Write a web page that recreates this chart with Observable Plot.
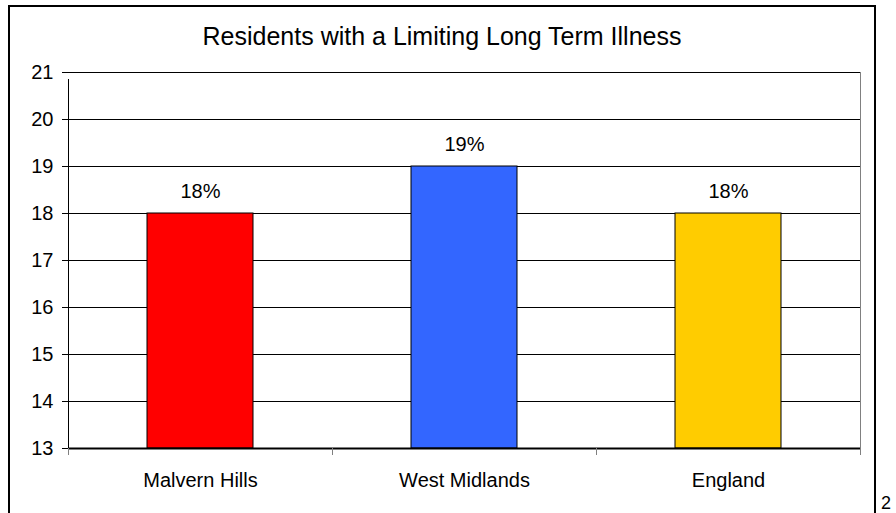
<!DOCTYPE html>
<html>
<head>
<meta charset="utf-8">
<script src="https://cdn.jsdelivr.net/npm/d3@7"></script>
<script src="https://cdn.jsdelivr.net/npm/@observablehq/plot@0.6"></script>
<style>
  html, body { margin: 0; padding: 0; background: #fff; }
  #wrap { position: relative; width: 896px; height: 513px; overflow: hidden; background: #fff;
          font-family: "Liberation Sans", Arial, sans-serif; }
  #border { position: absolute; left: 8px; top: 5px; width: 864px; height: 540px; border: 2px solid #000; }
  #title { position: absolute; left: 8px; width: 868px; top: 22px; text-align: center; font-size: 25px; color: #000; }
  #pageno { position: absolute; left: 881px; top: 494px; font-size: 18px; line-height: 1; color: #000; }
  #chart { position: absolute; left: 0; top: 0; }
</style>
</head>
<body>
<div id="wrap">
  <div id="border"></div>
  <div id="title">Residents with a Limiting Long Term Illness</div>
  <div id="chart"></div>
  <div id="pageno">2</div>
</div>
<script>
const categories = ["Malvern Hills", "West Midlands", "England"];
const values = [18, 19, 18];
const barColors = ["#FF0000", "#3366FF", "#FFCC00"];
const yTicks = [13, 14, 15, 16, 17, 18, 19, 20, 21];
const yMin = 13, yMax = 21;

const data = categories.map((name, i) => ({name, value: values[i]}));

const W = 896, H = 513;
const mL = 68, mR = 36, mT = 72, mB = 65;
const padIn = 0.6, padOut = 0.3;
const step = (W - mL - mR) / (categories.length - padIn + 2 * padOut);

const chart = Plot.plot({
  width: W, height: H,
  marginLeft: mL, marginRight: mR, marginTop: mT, marginBottom: mB,
  style: {fontFamily: "'Liberation Sans', Arial, sans-serif", background: "transparent", overflow: "visible"},
  x: {type: "band", domain: categories, paddingInner: padIn, paddingOuter: padOut, label: null},
  y: {domain: [yMin, yMax], label: null},
  color: {domain: categories, range: barColors},
  marks: [
    Plot.gridY(yTicks, {stroke: "#000", strokeOpacity: 1, strokeWidth: 1}),
    Plot.frame({anchor: "right", stroke: "#808080"}),
    Plot.barY(data, {x: "name", y1: yMin, y2: "value", fill: "name", stroke: "#000", strokeWidth: 1}),
    Plot.ruleY([yMin], {stroke: "#000", strokeWidth: 2}),
    Plot.ruleX(categories, {x: d => d, y1: yMin, y2: yMin, dx: -step / 2, insetBottom: -7, stroke: "#808080"}),
    Plot.ruleX(categories.slice(-1), {x: d => d, y1: yMin, y2: yMin, dx: step / 2, insetBottom: -7, stroke: "#808080"}),
    Plot.ruleX(categories.slice(0, 1), {x: d => d, y1: yMin, y2: yMax, dx: -step / 2, insetBottom: -7, stroke: "#000"}),
    Plot.axisY({ticks: yTicks, tickSize: 6, tickPadding: 9, fontSize: 20, tickFormat: d => String(d), stroke: "#000"}),
    Plot.axisX({tickSize: 0, tickPadding: 24, fontSize: 20}),
    Plot.text(data, {x: "name", y: "value", text: d => d.value + "%", dy: -22, fontSize: 20, fill: "#000"})
  ]
});
document.getElementById("chart").appendChild(chart);
</script>
</body>
</html>
